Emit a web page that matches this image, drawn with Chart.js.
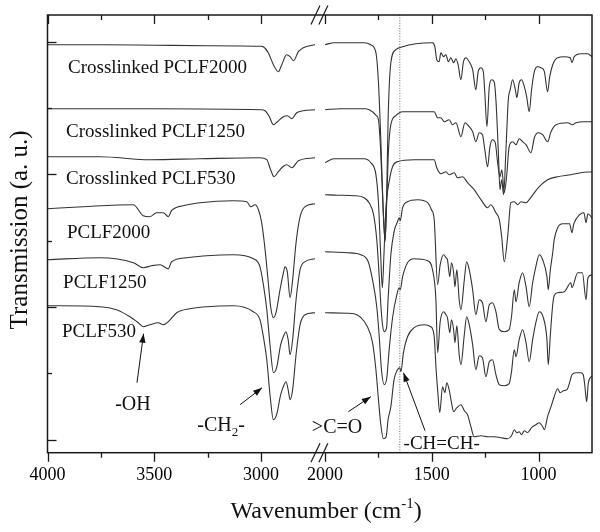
<!DOCTYPE html>
<html>
<head>
<meta charset="utf-8">
<script src="https://cdn.jsdelivr.net/npm/chart.js@4.4.1/dist/chart.umd.min.js"></script>
<style>
html,body{margin:0;padding:0;background:#ffffff;}
#wrap{position:relative;width:600px;height:532px;}
</style>
</head>
<body>
<div id="wrap"><canvas id="chart"></canvas></div>
<script>
// ---------------- data ----------------
const seriesNames = ['Crosslinked PCLF2000','Crosslinked PCLF1250','Crosslinked PCLF530','PCLF2000','PCLF1250','PCLF530'];
const xTickLabels = [4000, 3500, 3000, 2000, 1500, 1000];
const xMinorTicks = [3750, 3250, 1750, 1250];
const yTickValues = [13, 80, 146, 212, 279, 345, 411];
const markerWavenumber = 1650;

const wnCL2000 = [4000,3750,3500,3250,3000,2989,2966,2942,2919,2903,2880,2864,2848,2825,2802,2747,
  2000,1958,1817,1786,1762,1750,1739,1728,1719,1711,1705,1692,1669,1637,1575,1497,1486,1477,1466,1458,1445,1434,1423,1411,1398,1387,1377,1364,1352,1341,1325,1309,1294,1283,1270,1259,1252,1242,1231,1220,1208,1200,1189,1181,1173,1164,1153,1142,1133,1122,1109,1102,1091,1080,1067,1056,1044,1033,1020,1005,989,973,958,948,934,911,880,852,844,833,802,770,750];
const trCL2000 = [408,408,407.5,407,406.5,406,400,388,381,388,398,396,392,401,405,408,
  408,410,410,408,400,370,313,243,211,263,333,390,403,406,409,410,406,393,391,400,396,398,391,395,390,394,388,373,391,395,391,383,363,381,385,381,360,326,366,373,371,353,303,263,273,258,303,353,363,373,363,355,370,373,366,356,341,363,381,386,385,381,361,376,388,395,396,395,390,396,399,399,396];

const wnCL1250 = [4000,3500,3000,2981,2961,2942,2923,2895,2877,2856,2833,2802,2747,
  2000,1927,1810,1778,1760,1750,1740,1728,1719,1711,1703,1692,1669,1637,1489,1473,1458,1442,1419,1403,1387,1364,1345,1325,1309,1294,1278,1263,1252,1239,1228,1216,1203,1192,1181,1172,1161,1150,1138,1122,1106,1091,1075,1059,1036,1020,1002,981,958,942,919,864,841,825,786,750];
const trCL1250 = [344,344,343,342,336,328,331,336,337,334,340,342,343,
  343,344,344,341,337,333,303,243,213,253,303,328,337,341,341,335,335,331,333,328,330,316,330,326,321,311,320,318,303,286,306,313,310,290,276,283,260,276,306,311,308,314,311,308,300,315,320,318,311,321,328,330,328,330,331,331];

const wnCL530 = [4000,3755,3520,3286,3005,2973,2955,2939,2919,2898,2880,2856,2825,2747,
  2000,1958,1817,1786,1762,1750,1740,1732,1724,1715,1700,1684,1661,1583,1489,1477,1458,1434,1419,1395,1380,1356,1333,1302,1270,1239,1224,1200,1184,1173,1161,1145,1130,1114,1098,1083,1059,1044,1020,997,958,911,849,802,750];
const trCL530 = [296,296,293,294,295,293,283,276,281,286,288,285,292,295,
  290,294,294,290,278,250,200,165,200,245,271,286,291,293,293,285,279,281,278,280,275,276,270,263,253,245,248,240,233,216,191,216,250,251,248,251,250,253,260,266,273,276,278,280,281];

const wnPCLF2000 = [4000,3833,3598,3552,3520,3489,3458,3434,3419,3364,3286,3130,3067,3048,3028,3012,2997,2981,2966,2955,2942,2930,2911,2895,2888,2877,2864,2852,2836,2817,2794,2747,
  2000,1942,1864,1817,1794,1773,1758,1747,1739,1731,1723,1712,1705,1692,1677,1661,1653,1648,1637,1614,1567,1520,1502,1489,1473,1461,1445,1434,1427,1416,1408,1398,1392,1383,1372,1364,1348,1337,1325,1309,1294,1278,1263,1247,1231,1216,1200,1184,1161,1138,1127,1114,1106,1091,1075,1059,1044,1028,1013,997,981,961,955,945,934,927,911,887,855,844,835,808,788,778,769,750];
const trPCLF2000 = [244,246,248,237,236,240,240,236,242,247,250,252,251,246,248,243,230,203,170,146,135,140,163,180,186,181,155,173,210,236,246,249,
  258,257.5,257,255,250,238,213,178,148,128,121,125,153,198,221,231,235,232,245,251,253,250,243,233,168,188,198,195,193,176,190,180,166,183,153,143,173,191,183,163,138,153,150,131,148,150,141,123,121,123,136,163,151,170,180,166,146,170,186,198,193,176,163,183,200,213,225,229,229,220,229,238,240,230,239,235];

const wnPCLF1250 = [4000,3755,3598,3552,3512,3473,3434,3419,3348,3255,3130,3036,3005,2989,2973,2958,2942,2927,2908,2892,2883,2873,2864,2852,2836,2817,2794,2747,
  2000,1895,1833,1798,1778,1758,1747,1736,1723,1711,1700,1684,1664,1653,1648,1637,1614,1583,1520,1497,1481,1473,1461,1445,1434,1427,1416,1408,1398,1392,1383,1372,1364,1348,1337,1325,1309,1294,1278,1263,1247,1231,1216,1200,1184,1161,1138,1127,1114,1106,1091,1075,1059,1044,1028,1013,997,981,961,955,945,934,927,911,880,849,844,817,795,778,769,750];
const trPCLF1250 = [193,195,190,185,187,188,184,191,195,197,198,194,186,168,143,108,80,85,108,118,121,113,98,113,153,183,191,194,
  201,200,198,191,173,146,118,83,68,75,103,135,158,165,163,176,190,194,192,183,153,100,131,141,138,135,120,133,123,110,127,98,88,118,136,128,108,83,97,95,76,91,93,78,68,67,69,81,103,96,113,123,110,91,113,130,141,137,113,88,118,148,157,160,161,170,165,180,180,153,175,178];

const wnPCLF530 = [4000,3755,3677,3614,3575,3552,3520,3481,3458,3434,3395,3333,3255,3130,3036,3005,2989,2973,2958,2942,2927,2908,2892,2883,2873,2864,2852,2836,2817,2794,2747,
  2000,1895,1864,1802,1778,1762,1750,1739,1727,1714,1705,1692,1677,1661,1650,1645,1633,1614,1583,1536,1505,1489,1480,1473,1463,1450,1439,1430,1419,1408,1398,1383,1364,1348,1333,1317,1302,1270,1239,1208,1177,1145,1127,1114,1102,1091,1080,1067,1052,1033,1013,997,981,973,958,942,927,911,899,883,867,855,844,825,802,791,783,775,767,750];
const trPCLF530 = [147,146,143,136,130,126,128,130,128,131,140,144,146,147,141,133,116,93,58,33,38,58,68,71,63,53,63,98,128,138,140,
  140,139.5,139,126,110,83,53,28,14,16,33,46,73,83,85,81,100,116,125,128,126,116,83,63,40,66,60,70,63,50,41,45,48,42,38,26,16,17,16,16,15,14,17,23,20,21,18,22,20,25,28,30,26,23,36,46,56,64,60,62,63,70,78,80,80,78,66,51,70,77];

const seriesWn = [wnCL2000, wnCL1250, wnCL530, wnPCLF2000, wnPCLF1250, wnPCLF530];
const seriesTr = [trCL2000, trCL1250, trCL530, trPCLF2000, trPCLF1250, trPCLF530];

// ---------------- broken axis mapping ----------------
const LEFT_HI = 4000, LEFT_LO = 2750, RIGHT_HI = 2000, RIGHT_LO = 750, GAP = 50;
const RIGHT_OFFSET = (LEFT_HI - LEFT_LO) + GAP;          // virtual position of 2000
const U_MAX = RIGHT_OFFSET + (RIGHT_HI - RIGHT_LO);
const SPLIT = (LEFT_LO + RIGHT_HI) / 2;
function toU(w) { return w >= SPLIT ? LEFT_HI - w : RIGHT_OFFSET + (RIGHT_HI - w); }
function fromU(u) { return u <= (LEFT_HI - LEFT_LO) + GAP / 2 ? LEFT_HI - u : RIGHT_HI - (u - RIGHT_OFFSET); }

function buildPoints(W, T) {
  const pts = [];
  for (let i = 0; i < W.length; i++) {
    if (i > 0 && W[i - 1] >= SPLIT && W[i] < SPLIT) pts.push({ x: (LEFT_HI - LEFT_LO) + GAP / 2, y: null });
    pts.push({ x: toU(W[i]), y: T[i] });
  }
  return pts;
}

// ---------------- styles / annotation layout ----------------
const FONT = '"Liberation Serif", "Times New Roman", Times, serif';
const LINE_COLOR = '#333333';
const TEXT_COLOR = '#111111';

const labelAnchors = [ // left-aligned label: wavenumber, y (baseline)
  { w: 3904, y: 380 }, { w: 3913, y: 316 }, { w: 3913, y: 268.5 },
  { w: 3909, y: 215 }, { w: 3927, y: 165 }, { w: 3932, y: 116 }
];
const annotations = [
  { text: ['-OH'], w: 3600, y: 43, size: 20, from: [3581, 70], to: [3550, 119] },
  { text: ['-CH', '2', '-'], w: 3187, y: 22, size: 20, from: [3098, 48], to: [2995, 65] },
  { text: ['>C=O'], w: 1944, y: 20, size: 20, from: [1891, 41], to: [1786, 56] },
  { text: ['-CH=CH-'], w: 1454, y: 4, size: 19, from: [1532, 22], to: [1633, 80] }
];

function drawArrow(ctx, x1, y1, x2, y2) {
  ctx.beginPath(); ctx.moveTo(x1, y1); ctx.lineTo(x2, y2); ctx.stroke();
  const a = Math.atan2(y2 - y1, x2 - x1), L = 9, H = 3.2;
  ctx.beginPath();
  ctx.moveTo(x2, y2);
  ctx.lineTo(x2 - L * Math.cos(a) + H * Math.sin(a), y2 - L * Math.sin(a) - H * Math.cos(a));
  ctx.lineTo(x2 - L * Math.cos(a) - H * Math.sin(a), y2 - L * Math.sin(a) + H * Math.cos(a));
  ctx.closePath(); ctx.fill();
}

const decor = {
  id: 'decor',
  beforeDatasetsDraw(chart) {
    const { ctx, chartArea: a, scales: { x } } = chart;
    const px = x.getPixelForValue(toU(markerWavenumber));
    ctx.save();
    ctx.strokeStyle = '#444';
    ctx.lineWidth = 0.8;
    ctx.setLineDash([1, 1.6]);
    ctx.beginPath(); ctx.moveTo(px, a.top); ctx.lineTo(px, a.bottom); ctx.stroke();
    ctx.restore();
  },
  afterDatasetsDraw(chart) {
    const { ctx, chartArea: a, scales: { x, y } } = chart;
    ctx.save();
    // frame
    ctx.strokeStyle = '#1a1a1a';
    ctx.lineWidth = 1.5;
    ctx.strokeRect(a.left, a.top, a.right - a.left, a.bottom - a.top);
    // x ticks
    ctx.lineWidth = 1.3;
    const xt = xTickLabels.map(v => [v, 9]).concat(xMinorTicks.map(v => [v, 5]));
    xt.forEach(([w, len]) => {
      const p = Math.round(x.getPixelForValue(toU(w))) + 0.5;
      ctx.beginPath();
      ctx.moveTo(p, a.top); ctx.lineTo(p, a.top + len);
      ctx.moveTo(p, a.bottom); ctx.lineTo(p, a.bottom + len);
      ctx.stroke();
    });
    // y ticks (inward)
    yTickValues.forEach((v, i) => {
      const p = Math.round(y.getPixelForValue(v)) + 0.5;
      const len = i % 2 === 0 ? 9 : 4.5;
      ctx.beginPath(); ctx.moveTo(a.left, p); ctx.lineTo(a.left + len, p); ctx.stroke();
    });
    // axis break marks
    ctx.lineWidth = 1.2;
    const brk = [LEFT_HI - LEFT_LO + 5, RIGHT_OFFSET - 8];
    [a.top, a.bottom].forEach(cy => {
      brk.forEach(u => {
        const cx = x.getPixelForValue(u);
        ctx.beginPath(); ctx.moveTo(cx - 4.5, cy + 9.5); ctx.lineTo(cx + 4.5, cy - 9.5); ctx.stroke();
      });
    });
    // series labels
    ctx.fillStyle = TEXT_COLOR;
    ctx.textBaseline = 'alphabetic';
    ctx.textAlign = 'left';
    ctx.font = '19px ' + FONT;
    seriesNames.forEach((name, i) => {
      const an = labelAnchors[i];
      ctx.fillText(name, x.getPixelForValue(toU(an.w)), y.getPixelForValue(an.y));
    });
    // annotations
    ctx.strokeStyle = '#111';
    ctx.lineWidth = 1;
    annotations.forEach(an => {
      const big = an.size + 'px ' + FONT, small = Math.round(an.size * 0.65) + 'px ' + FONT;
      const parts = an.text.map((t, k) => ({ t, sub: an.text.length === 3 && k === 1 }));
      let total = 0;
      parts.forEach(pt => { ctx.font = pt.sub ? small : big; pt.wd = ctx.measureText(pt.t).width; total += pt.wd; });
      let cx = x.getPixelForValue(toU(an.w)) - total / 2;
      const by = y.getPixelForValue(an.y);
      parts.forEach(pt => {
        ctx.font = pt.sub ? small : big;
        ctx.fillText(pt.t, cx, by + (pt.sub ? 5 : 0));
        cx += pt.wd;
      });
      drawArrow(ctx, x.getPixelForValue(toU(an.from[0])), y.getPixelForValue(an.from[1]),
                     x.getPixelForValue(toU(an.to[0])), y.getPixelForValue(an.to[1]));
    });
    // y title
    ctx.save();
    ctx.font = '25px ' + FONT;
    ctx.textAlign = 'center';
    ctx.translate(26.5, (a.top + a.bottom) / 2 - 4);
    ctx.rotate(-Math.PI / 2);
    ctx.fillText('Transmission (a. u.)', 0, 0);
    ctx.restore();
    // x title with superscript
    const t1 = 'Wavenumber (cm', sup = '-1', t2 = ')';
    ctx.font = '24px ' + FONT; const w1 = ctx.measureText(t1).width, w3 = ctx.measureText(t2).width;
    ctx.font = '15px ' + FONT; const w2 = ctx.measureText(sup).width;
    const tot = w1 + w2 + w3;
    let sx = x.getPixelForValue(toU(RIGHT_HI)) + 1 - tot / 2;
    const base = a.bottom + 65.5;
    ctx.textAlign = 'left';
    ctx.font = '24px ' + FONT; ctx.fillText(t1, sx, base); sx += w1;
    ctx.font = '15px ' + FONT; ctx.fillText(sup, sx, base - 10); sx += w2;
    ctx.font = '24px ' + FONT; ctx.fillText(t2, sx, base);
    ctx.restore();
  }
};

const datasets = seriesWn.map((W, i) => ({
  label: seriesNames[i],
  data: buildPoints(W, seriesTr[i]),
  borderColor: LINE_COLOR,
  borderWidth: 1.1,
  pointRadius: 0,
  fill: false,
  spanGaps: false,
  cubicInterpolationMode: 'monotone'
}));

new Chart(document.getElementById('chart'), {
  type: 'line',
  data: { datasets },
  options: {
    responsive: true,
    maintainAspectRatio: false,
    animation: false,
    devicePixelRatio: 1,
    layout: { padding: { left: 47.5, right: 8, top: 15, bottom: 0 } },
    plugins: { legend: { display: false }, tooltip: { enabled: false } },
    scales: {
      x: {
        type: 'linear', min: 0, max: U_MAX,
        afterBuildTicks: s => { s.ticks = xTickLabels.map(w => ({ value: toU(w) })); },
        afterFit: s => { s.height = 79.3; },
        ticks: {
          autoSkip: false, maxRotation: 0, padding: 12, color: '#000',
          font: { family: FONT, size: 18 },
          callback: v => String(Math.round(fromU(v)))
        },
        grid: { display: false, drawTicks: false },
        border: { display: false }
      },
      y: { display: false, min: 0, max: 437.7 }
    }
  },
  plugins: [decor]
});
</script>
</body>
</html>
